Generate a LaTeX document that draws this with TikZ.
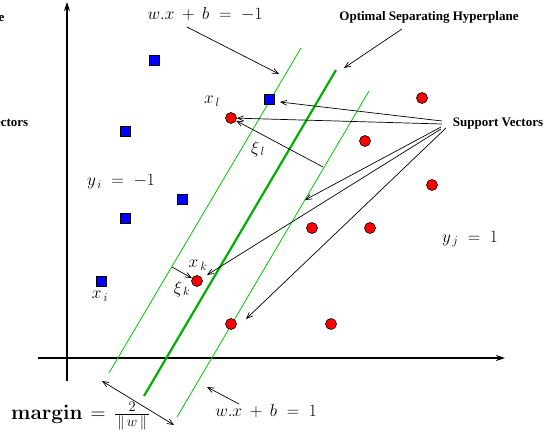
\documentclass[tikz,border=0pt]{standalone}
\usepackage[no-math]{fontspec}
\newfontfamily\tms{Liberation Serif}
\usetikzlibrary{arrows.meta}
\definecolor{hgreen}{RGB}{0,200,0}
\definecolor{hgreenb}{RGB}{0,176,0}
\newcommand{\widemath}{\thickmuskip=10mu plus 2mu\medmuskip=8mu plus 2mu}
\begin{document}
\begin{tikzpicture}[x=1pt,y=-1pt,
 negbox/.style={draw=black, fill=blue, minimum size=10pt, inner sep=0pt, line width=0.6pt},
 posdot/.style={circle, draw=black, fill=red, minimum size=11pt, inner sep=0pt, line width=0.6pt},
 axisline/.style={line width=2.2pt, -{Stealth[length=9pt,width=6pt]}},
 gline/.style={line width=0.8pt, draw=hgreen},
 hline/.style={line width=2.2pt, draw=hgreenb},
 ptr/.style={line width=0.7pt, -{Straight Barb[length=6pt,width=5pt]}},
 dptr/.style={line width=0.7pt, {Straight Barb[length=6pt,width=5pt]}-{Straight Barb[length=6pt,width=5pt]}},
 mlab/.style={font={\fontsize{18}{20}\selectfont\widemath}, inner sep=0pt},
 marglab/.style={font={\fontsize{20}{22}\selectfont\thickmuskip=7mu}, inner sep=0pt},
 blab/.style={font=\tms\bfseries\fontsize{13}{15}\selectfont, inner sep=0pt}]
\path[use as bounding box] (0,0) rectangle (550,441);
\clip (0,0) rectangle (550,441);
% axes
\coordinate (ya0) at (67,381); \coordinate (ya1) at (67,2);
\coordinate (xa0) at (38,358); \coordinate (xa1) at (505,358);
\draw[axisline] (ya0) -- (ya1);
\draw[axisline] (xa0) -- (xa1);
% hyperplanes
\coordinate (m1a) at (109,373); \coordinate (m1b) at (301,48);
\coordinate (ha) at (144,396); \coordinate (hb) at (336,70);
\coordinate (m2a) at (177,417); \coordinate (m2b) at (369,91);
\draw[gline] (m1a) -- (m1b);
\draw[hline] (ha) -- (hb);
\draw[gline] (m2a) -- (m2b);
% class -1
\node[negbox] (s1) at (154,60) {};
\node[negbox] (s2) at (125,131) {};
\node[negbox] (s3) at (269,99) {};
\node[negbox] (s4) at (182,199) {};
\node[negbox] (s5) at (125,218) {};
\node[negbox] (s6) at (101,281) {};
% class +1
\node[posdot] (c1) at (231,118) {};
\node[posdot] (c2) at (422,98) {};
\node[posdot] (c3) at (365,141) {};
\node[posdot] (c4) at (432,185) {};
\node[posdot] (c5) at (312,228) {};
\node[posdot] (c6) at (370,228) {};
\node[posdot] (c7) at (197,281) {};
\node[posdot] (c8) at (231,324) {};
\node[posdot] (c9) at (331,324) {};
% labels
\node[mlab] (eqm) at (205,14) {$w.x+b=-1$};
\node[mlab] (eqp) at (266,411) {$w.x+b=1$};
\node[blab] (osh) at (429,17) {Optimal Separating Hyperplane};
\node[blab] (sv) at (498,124) {Support Vectors};
\node[blab, anchor=east] (osh2) at (4.5,18) {Optimal Separating Hyperplane};
\node[blab, anchor=east] (sv2) at (28.5,124) {Support Vectors};
\node[mlab] (yi) at (121,182) {$y_{\,i}=-1$};
\node[mlab] (yj) at (470,239) {$y_{\,j}=1$};
\node[mlab] (xl) at (212,101) {$x_{\,l}$};
\node[mlab] (xk) at (198,265) {$x_{\,k}$};
\node[mlab] (xi) at (100,296) {$x_{\,i}$};
\node[mlab] (xil) at (258,149) {$\xi_{\,l}$};
\node[mlab] (xik) at (182,289) {$\xi_{\,k}$};
\node[marglab, anchor=west] (mg) at (11,416) {$\mathbf{margin}=\frac{2}{\,\|\,w\,\|\,}$};
% pointers
\coordinate (p1s) at (187,27); \coordinate (p1e) at (279,74);
\draw[ptr] (p1s) -- (p1e);
\coordinate (p2s) at (402,29); \coordinate (p2e) at (344,68);
\draw[ptr] (p2s) -- (p2e);
\coordinate (sva) at (442,121); \coordinate (t1) at (280,102);
\coordinate (svb) at (442,124);
\coordinate (svc) at (441,127); \coordinate (t3) at (305,200);
\coordinate (svd) at (441,129); \coordinate (t4) at (207,275);
\coordinate (sve) at (446,128); \coordinate (t5) at (246,319);
\draw[ptr] (sva) -- (t1);
\draw[ptr] (svb) -- (c1);
\draw[ptr] (svc) -- (t3);
\draw[ptr] (svd) -- (t4);
\draw[ptr] (sve) -- (t5);
% slacks
\coordinate (q1) at (323,167);
\draw[ptr] (q1) -- (c1);
\coordinate (q2) at (172,267);
\draw[ptr] (q2) -- (c7);
% margin
\coordinate (r1) at (102,381); \coordinate (r2) at (174,425);
\draw[dptr] (r1) -- (r2);
\coordinate (u1) at (239,404); \coordinate (u2) at (207,387);
\draw[ptr] (u1) -- (u2);
\end{tikzpicture}
\end{document}
